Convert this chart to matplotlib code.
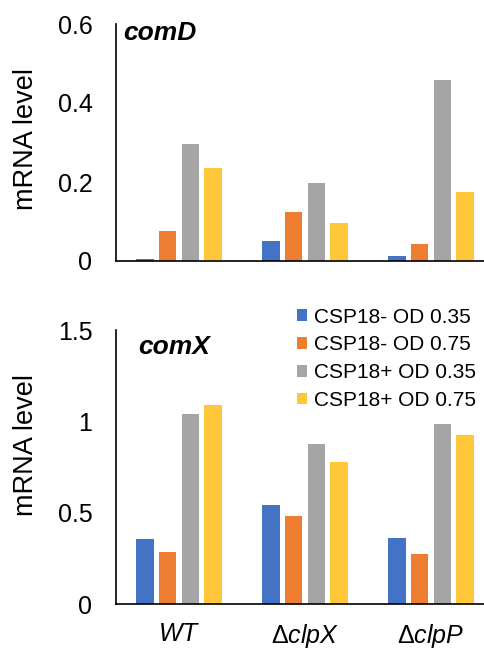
import numpy as np
import matplotlib
matplotlib.use("Agg")
import matplotlib.pyplot as plt

plt.rcParams["font.family"] = ["Liberation Sans", "DejaVu Sans"]
plt.rcParams["mathtext.fontset"] = "custom"
plt.rcParams["mathtext.rm"] = "Liberation Sans"
plt.rcParams["mathtext.it"] = "Liberation Sans:italic"

strains = [r"$\mathit{WT}$", r"$\Delta\mathit{clpX}$", r"$\Delta\mathit{clpP}$"]
series = ["CSP18- OD 0.35", "CSP18- OD 0.75", "CSP18+ OD 0.35", "CSP18+ OD 0.75"]
colors = ["#4472C4", "#ED7D31", "#A5A5A5", "#FFC63A"]

comD_neg_035 = [0.005, 0.050, 0.012]
comD_neg_075 = [0.076, 0.125, 0.042]
comD_pos_035 = [0.295, 0.198, 0.459]
comD_pos_075 = [0.236, 0.095, 0.175]

comX_neg_035 = [0.355, 0.541, 0.364]
comX_neg_075 = [0.282, 0.484, 0.275]
comX_pos_035 = [1.038, 0.878, 0.984]
comX_pos_075 = [1.087, 0.776, 0.927]

comD = [comD_neg_035, comD_neg_075, comD_pos_035, comD_pos_075]
comX = [comX_neg_035, comX_neg_075, comX_pos_035, comX_pos_075]

fig = plt.figure(figsize=(4.84, 6.5), dpi=100)
W, H = 484, 650
# axes run past the right edge, as in the source image (cropped)
ax1 = fig.add_axes([116 / W, 1 - 261 / H, 378 / W, 237 / H])
ax2 = fig.add_axes([116 / W, 1 - 604 / H, 378 / W, 274 / H])

x = np.arange(len(strains))
pitch = 0.18
width = 0.137

for ax, data, ymax, yticks, yticklabels, label_y in [
    (ax1, comD, 0.6, [0, 0.2, 0.4, 0.6], ["0", "0.2", "0.4", "0.6"], 0.515),
    (ax2, comX, 1.5, [0, 0.5, 1, 1.5], ["0", "0.5", "1", "1.5"], 0.58),
]:
    for i, (vals, c, lab) in enumerate(zip(data, colors, series)):
        ax.bar(x + (i - 1.5) * pitch, vals, width, color=c, label=lab)
    ax.set_xlim(-0.5, 2.5)
    ax.set_ylim(0, ymax)
    ax.set_yticks(yticks)
    ax.set_yticklabels(yticklabels, fontsize=18)
    ax.tick_params(axis="y", length=0, pad=17)
    ax.spines["top"].set_visible(False)
    ax.spines["right"].set_visible(False)
    ax.spines["left"].set_linewidth(1.2)
    ax.spines["bottom"].set_linewidth(1.2)
    ax.set_ylabel("mRNA level", fontsize=19.5)
    ax.yaxis.set_label_coords(-0.205, label_y)
    ax.set_xticks(x)

ax1.set_xticklabels([])
ax1.tick_params(axis="x", length=0)
ax2.set_xticklabels(strains, fontsize=18)
ax2.tick_params(axis="x", length=0, pad=13)

ax1.text(0.018, 0.962, "comD", transform=ax1.transAxes, fontsize=19,
         fontweight="bold", fontstyle="italic", va="center", ha="left")
ax2.text(0.058, 0.939, "comX", transform=ax2.transAxes, fontsize=19,
         fontweight="bold", fontstyle="italic", va="center", ha="left")

ax2.legend(loc="upper left", bbox_to_anchor=(0.457, 1.112), frameon=False,
           fontsize=15, handlelength=0.5, handleheight=0.5, handletextpad=0.3,
           labelspacing=0.42, borderaxespad=0)

plt.savefig("out.png", dpi=100)
